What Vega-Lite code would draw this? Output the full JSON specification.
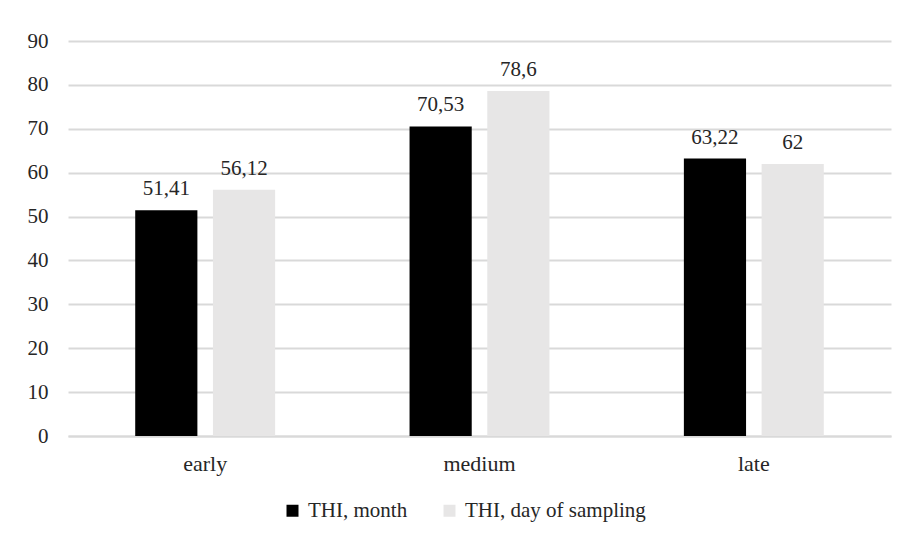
{
  "$schema": "https://vega.github.io/schema/vega-lite/v6.json",
  "autosize": {"type": "none"},
  "padding": {"left": 68, "top": 41, "right": 13, "bottom": 100},
  "width": 823,
  "height": 395,
  "background": "white",
  "config": {
    "locale": {"number": {"decimal": ",", "thousands": " ", "grouping": [3], "currency": ["", ""]}},
    "view": {"stroke": null},
    "font": "Liberation Serif"
  },
  "data": {
    "values": [
      {"period": "early", "series": "THI, month", "value": 51.41},
      {"period": "early", "series": "THI, day of sampling", "value": 56.12},
      {"period": "medium", "series": "THI, month", "value": 70.53},
      {"period": "medium", "series": "THI, day of sampling", "value": 78.6},
      {"period": "late", "series": "THI, month", "value": 63.22},
      {"period": "late", "series": "THI, day of sampling", "value": 62}
    ]
  },
  "encoding": {
    "x": {
      "field": "period", "type": "nominal", "sort": ["early", "medium", "late"],
      "scale": {"paddingInner": 0.49, "paddingOuter": 0.245},
      "axis": {
        "title": null, "labelAngle": 0, "ticks": false, "domainColor": "#d9d9d9", "domainWidth": 2,
        "labelFont": "Liberation Serif", "labelFontSize": 22, "labelColor": "#262626", "labelPadding": 17
      }
    },
    "xOffset": {
      "field": "series", "type": "nominal", "sort": ["THI, month", "THI, day of sampling"],
      "scale": {"paddingInner": 0.2, "paddingOuter": 0}
    },
    "y": {
      "field": "value", "type": "quantitative",
      "scale": {"domain": [0, 90], "nice": false},
      "axis": {
        "title": null, "values": [0, 10, 20, 30, 40, 50, 60, 70, 80, 90], "domain": false, "ticks": false,
        "gridColor": "#d9d9d9", "gridWidth": 2, "labelPadding": 20,
        "labelFont": "Liberation Serif", "labelFontSize": 21, "labelColor": "#262626", "format": "d"
      }
    }
  },
  "layer": [
    {
      "mark": {"type": "bar"},
      "encoding": {
        "color": {
          "field": "series", "type": "nominal", "sort": ["THI, month", "THI, day of sampling"],
          "scale": {"domain": ["THI, month", "THI, day of sampling"], "range": ["#000000", "#e7e6e6"]},
          "legend": {
            "title": null, "orient": "none", "legendX": 214, "legendY": 459, "direction": "horizontal", "symbolType": "square",
            "symbolSize": 144, "symbolStrokeWidth": 0, "labelFont": "Liberation Serif", "labelFontSize": 21,
            "labelColor": "#262626", "columnPadding": 31, "labelOffset": 5, "labelLimit": 400
          }
        }
      }
    },
    {
      "mark": {"type": "text", "baseline": "alphabetic", "dy": -15, "font": "Liberation Serif", "fontSize": 21, "color": "#262626"},
      "encoding": {
        "text": {"field": "value", "type": "quantitative", "format": ".2~f"}
      }
    }
  ]
}
